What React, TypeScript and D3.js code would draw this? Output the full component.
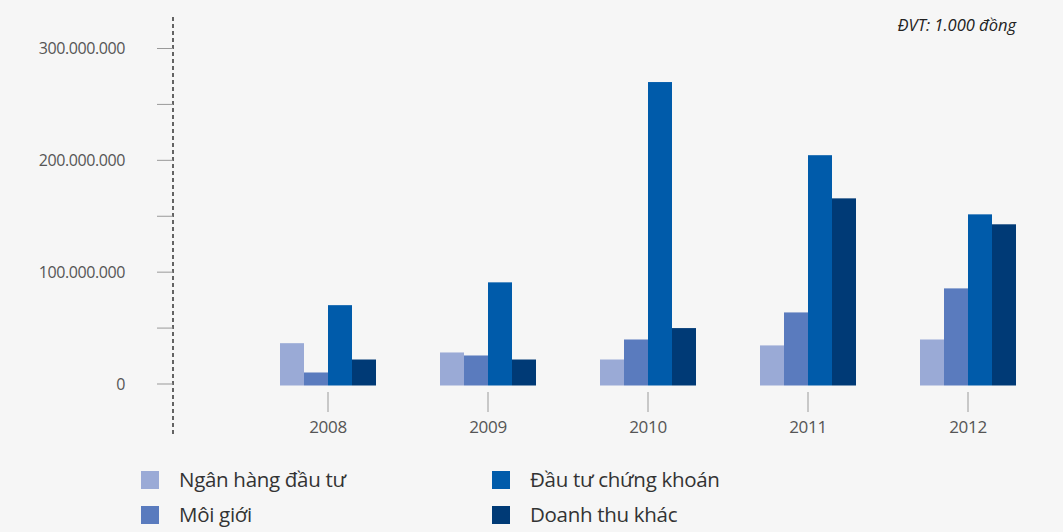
import React from "react";
import * as d3 from "d3";

const years = ["2008", "2009", "2010", "2011", "2012"];
const seriesNames = ["Ngân hàng đầu tư", "Môi giới", "Đầu tư chứng khoán", "Doanh thu khác"];
const nganHang = [36.5e6, 28.2e6, 21.9e6, 34.5e6, 39.8e6];
const moiGioi = [10.3e6, 25.5e6, 39.8e6, 64e6, 85.5e6];
const dauTu = [70.5e6, 90.9e6, 270e6, 204.6e6, 151.7e6];
const khac = [21.9e6, 21.9e6, 50e6, 166e6, 142.8e6];
const colors = ["#9aaad6", "#5a7bbe", "#005baa", "#003a76"];
const majorTicks = [0, 100e6, 200e6, 300e6];
const minorTicks = [50e6, 150e6, 250e6];
const tickLabels = ["0", "100.000.000", "200.000.000", "300.000.000"];
const unitLabel = "ĐVT: 1.000 đồng";

const W = 1063;
const H = 532;
const FONT = "'Open Sans', 'Noto Sans', sans-serif";

export default function App() {
  const series = [nganHang, moiGioi, dauTu, khac];
  const y = d3.scaleLinear().domain([0, 300e6]).range([384, 48.5]);
  const x0 = d3.scaleBand<string>().domain(years).range([248, 1048]).paddingInner(0.4).paddingOuter(0.2);
  const x1 = d3.scaleBand<number>().domain([0, 1, 2, 3]).range([0, x0.bandwidth()]);
  const axisX = 173;

  return (
    <div style={{ position: "absolute", left: 0, top: 0 }}>
      <svg width={W} height={H} style={{ display: "block", background: "#f6f6f6" }}>
        <line x1={axisX} x2={axisX} y1={17} y2={436} stroke="#333" strokeWidth={1.5} strokeDasharray="4,3" />
        {majorTicks.map((t, i) => (
          <g key={"M" + i}>
            <line x1={157} x2={axisX} y1={y(t)} y2={y(t)} stroke="#999" strokeWidth={1} />
            <text x={125} y={y(t)} dy="0.35em" textAnchor="end" fontFamily={FONT} fontSize={16} fill="#555" letterSpacing={-0.4}>
              {tickLabels[i]}
            </text>
          </g>
        ))}
        {minorTicks.map((t, i) => (
          <line key={"m" + i} x1={157} x2={axisX} y1={y(t)} y2={y(t)} stroke="#999" strokeWidth={1} />
        ))}
        {years.map((yr, gi) => (
          <g key={yr} transform={`translate(${x0(yr)},0)`}>
            {series.map((s, si) => (
              <rect
                key={si}
                x={x1(si)}
                y={y(s[gi])}
                width={x1.bandwidth()}
                height={y(0) + 1.5 - y(s[gi])}
                fill={colors[si]}
              />
            ))}
          </g>
        ))}
        {years.map((yr) => {
          const cx = (x0(yr) as number) + x0.bandwidth() / 2;
          return (
            <g key={"t" + yr}>
              <line x1={cx} x2={cx} y1={392} y2={412} stroke="#aaa" strokeWidth={1.2} />
              <text x={cx} y={433} textAnchor="middle" fontFamily={FONT} fontSize={17} fill="#555" letterSpacing={-0.3}>
                {yr}
              </text>
            </g>
          );
        })}
        <text x={1016} y={31} textAnchor="end" fontFamily={FONT} fontSize={16.5} fontStyle="italic" fill="#222">
          {unitLabel}
        </text>
        {seriesNames.map((name, i) => {
          const col = i < 2 ? 0 : 1;
          const row = i % 2;
          const sx = col === 0 ? 141 : 492;
          const sy = row === 0 ? 471 : 506;
          return (
            <g key={name}>
              <rect x={sx} y={sy} width={18} height={18} fill={colors[i]} />
              <text x={sx + 38} y={sy + 9} dy="0.36em" fontFamily={FONT} fontSize={20.5} fill="#333" letterSpacing={-0.3}>
                {name}
              </text>
            </g>
          );
        })}
      </svg>
    </div>
  );
}
